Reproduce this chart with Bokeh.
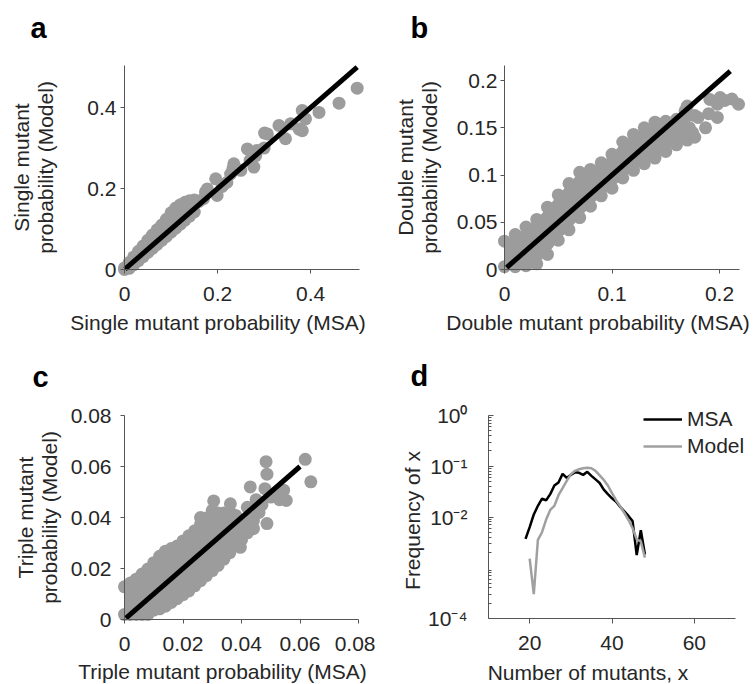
import math
from bokeh.plotting import figure
from bokeh.models import (Range1d, FixedTicker, CustomJSTickFormatter, Label,
                          Legend, LegendItem, LinearAxis, LogAxis, LogScale)
from bokeh.layouts import row, column
from bokeh.embed import file_html
from bokeh.resources import INLINE

FONT = "Liberation Sans"
DOT = "#9c9c9c"
AXIS_COL = "#555555"
TXT = "#262626"
FS = "21px"

# ---------------- data ----------------
# panel a : single mutant probabilities (dense band + scattered points)
a_band_x = [0.00, 0.01, 0.02, 0.03, 0.04, 0.05, 0.06, 0.07, 0.08, 0.09, 0.10, 0.11, 0.12, 0.13, 0.14, 0.15]
a_band_hi = [0.004, 0.017, 0.031, 0.045, 0.058, 0.072, 0.085, 0.098, 0.110, 0.124, 0.140, 0.152, 0.160, 0.166, 0.170, 0.172]
a_band_lo = [0.000, 0.003, 0.012, 0.022, 0.032, 0.042, 0.052, 0.062, 0.072, 0.082, 0.092, 0.102, 0.112, 0.122, 0.132, 0.142]
a_pts_x = [0.16, 0.17, 0.174, 0.178, 0.196, 0.199, 0.21, 0.22, 0.228, 0.235, 0.233, 0.25, 0.264, 0.278, 0.282,
           0.285, 0.27, 0.301, 0.307, 0.30, 0.332, 0.346, 0.357, 0.375, 0.382, 0.382, 0.389, 0.418, 0.461, 0.500]
a_pts_y = [0.168, 0.175, 0.192, 0.199, 0.224, 0.183, 0.205, 0.215, 0.236, 0.261, 0.249, 0.245, 0.298, 0.253, 0.281,
           0.294, 0.27, 0.337, 0.335, 0.30, 0.356, 0.323, 0.360, 0.347, 0.343, 0.393, 0.372, 0.388, 0.411, 0.448]
a_diag = [0.001, 0.5]

# panel b : double mutant probabilities
b_band_x = [0.00, 0.01, 0.02, 0.03, 0.04, 0.05, 0.06, 0.07, 0.08, 0.09, 0.10, 0.11, 0.12, 0.13, 0.14, 0.15, 0.16, 0.17]
b_band_hi = [0.030, 0.037, 0.045, 0.053, 0.066, 0.079, 0.091, 0.103, 0.106, 0.113, 0.122, 0.135, 0.143, 0.150, 0.156, 0.157, 0.159, 0.163]
b_band_lo = [0.003, 0.003, 0.004, 0.006, 0.016, 0.031, 0.042, 0.055, 0.067, 0.078, 0.086, 0.097, 0.105, 0.112, 0.118, 0.125, 0.132, 0.137]
b_pts_x = [0.168, 0.170, 0.177, 0.177, 0.180, 0.187, 0.190, 0.191, 0.198, 0.198, 0.2006, 0.205, 0.2115, 0.2177, 0.172, 0.175, 0.165, 0.160]
b_pts_y = [0.168, 0.173, 0.163, 0.140, 0.161, 0.150, 0.165, 0.180, 0.175, 0.161, 0.182, 0.179, 0.1805, 0.175, 0.150, 0.145, 0.140, 0.150]
b_diag = [0.002, 0.21]

# panel c : triple mutant probabilities
c_band_x = [0.000, 0.002, 0.004, 0.006, 0.008, 0.010, 0.012, 0.014, 0.016, 0.018, 0.020,
            0.022, 0.024, 0.026, 0.028, 0.030, 0.032, 0.034, 0.036, 0.038, 0.040]
c_band_hi = [0.0128, 0.0143, 0.0158, 0.0178, 0.0198, 0.0223, 0.0248, 0.0268, 0.0278, 0.0288, 0.0308,
             0.0328, 0.0348, 0.0373, 0.0398, 0.0428, 0.0418, 0.0418, 0.0423, 0.0408, 0.0388]
c_band_lo = [0.002, 0.002, 0.002, 0.002, 0.002, 0.0037, 0.0042, 0.0052, 0.0067, 0.0082, 0.0097,
             0.0112, 0.0132, 0.0152, 0.0172, 0.0192, 0.0212, 0.0237, 0.0262, 0.0292, 0.0312]
c_pts_x = [0.0618, 0.0637, 0.0484, 0.0487, 0.043, 0.048, 0.0544, 0.0553, 0.0487, 0.0441, 0.0441, 0.0305, 0.0362,
           0.0373, 0.0396, 0.026, 0.042, 0.045, 0.047, 0.050, 0.052, 0.046, 0.043, 0.041, 0.039, 0.042, 0.053]
c_pts_y = [0.0628, 0.054, 0.0619, 0.057, 0.052, 0.0513, 0.0507, 0.0467, 0.0376, 0.0389, 0.0356, 0.0465, 0.0454,
           0.0402, 0.0283, 0.040, 0.044, 0.047, 0.045, 0.048, 0.050, 0.042, 0.040, 0.036, 0.032, 0.034, 0.047]
c_diag = [0.0005, 0.06]

# panel d : distribution of number of mutants
d_x_msa = [19, 20, 21, 22, 23, 24, 25, 26, 27, 28, 29, 30, 31, 32, 33, 34, 35, 36, 37, 38, 39, 40, 41, 42, 43, 44, 45, 46, 47, 48]
d_msa = [0.00372, 0.00631, 0.0112, 0.0166, 0.0229, 0.0214, 0.0282, 0.0417, 0.0479, 0.0708, 0.0589, 0.0676, 0.0759, 0.0741,
         0.0676, 0.0776, 0.0646, 0.0550, 0.0468, 0.0347, 0.0282, 0.0234, 0.0200, 0.0158, 0.0129, 0.0105, 0.0083, 0.00178,
         0.00550, 0.00182]
d_x_model = [20, 21, 22, 23, 24, 25, 26, 27, 28, 29, 30, 31, 32, 33, 34, 35, 36, 37, 38, 39, 40, 41, 42, 43, 44, 45, 46, 47, 48]
d_model = [0.00151, 0.000302, 0.00355, 0.00501, 0.00891, 0.0138, 0.0166, 0.0269, 0.0372, 0.0513, 0.0692, 0.0813, 0.0871,
           0.0912, 0.0933, 0.0912, 0.0813, 0.0661, 0.0537, 0.0417, 0.0295, 0.0214, 0.0162, 0.0120, 0.00871, 0.00603,
           0.00363, 0.00331, 0.00158]

# ticks
a_ticks = [0, 0.2, 0.4]
a_labels = ["0", "0.2", "0.4"]
b_xticks = [0, 0.1, 0.2]
b_xlabels = ["0", "0.1", "0.2"]
b_yticks = [0, 0.05, 0.1, 0.15, 0.2]
b_ylabels = ["0", "0.05", "0.1", "0.15", "0.2"]
c_ticks = [0, 0.02, 0.04, 0.06, 0.08]
c_labels = ["0", "0.02", "0.04", "0.06", "0.08"]
d_xticks = [20, 40, 60]
d_xlabels = ["20", "40", "60"]
d_yticks = [1e-4, 1e-2, 1e-1, 1.0]
d_ylabels = ["10\u207b\u2074", "10\u207b\u00b2", "10\u207b\u00b9", "10\u2070"]

FMT_CODE = """
for (let i = 0; i < t.length; i++) {
  if (Math.abs(t[i] - tick) <= 1e-7 * Math.abs(t[i]) + 1e-12) { return l[i]; }
}
return "";
"""

ROW1_H = 342
TOTAL_H = 684


class Panel:
    """A figure whose frame is its whole canvas; axes sit at fixed locations."""

    def __init__(self, canvas, box, xr, yr, log=False):
        self.ox, self.oy, self.cw, self.ch = canvas
        self.L, self.T, self.R, self.B = box
        self.xr, self.yr, self.log = xr, yr, log
        kx = (xr[1] - xr[0]) / (self.R - self.L)
        xs = xr[0] - (self.L - self.ox) * kx
        xe = xr[1] + (self.ox + self.cw - self.R) * kx
        if log:
            l0, l1 = math.log10(yr[0]), math.log10(yr[1])
            ky = (l1 - l0) / (self.B - self.T)
            ys = 10 ** (l0 - (self.oy + self.ch - self.B) * ky)
            ye = 10 ** (l1 + (self.T - self.oy) * ky)
        else:
            ky = (yr[1] - yr[0]) / (self.B - self.T)
            ys = yr[0] - (self.oy + self.ch - self.B) * ky
            ye = yr[1] + (self.T - self.oy) * ky
        p = figure(width=self.cw, height=self.ch, min_border=0,
                   min_border_left=0, min_border_right=0, min_border_top=0, min_border_bottom=0,
                   x_range=Range1d(xs, xe), y_range=Range1d(ys, ye),
                   x_axis_location=None, y_axis_location=None,
                   y_axis_type="log" if log else "linear",
                   output_backend="svg", toolbar_location=None)
        if log:
            p.y_scale = LogScale()
        p.grid.visible = False
        p.outline_line_color = None
        p.background_fill_color = None
        p.border_fill_color = None
        self.p = p

    def data(self, px, py):
        x0, x1 = self.xr
        x = x0 + (px - self.L) / (self.R - self.L) * (x1 - x0)
        frac = (self.B - py) / (self.B - self.T)
        y0, y1 = self.yr
        if self.log:
            y = 10 ** (math.log10(y0) + frac * (math.log10(y1) - math.log10(y0)))
        else:
            y = y0 + frac * (y1 - y0)
        return x, y

    def text(self, px, py, txt, size=FS, angle=0.0, align="center", baseline="alphabetic",
             bold=False, color=TXT, lh=1.05):
        x, y = self.data(px, py)
        self.p.add_layout(Label(x=x, y=y, text=txt, angle=angle, text_align=align,
                                text_baseline=baseline, text_font=FONT, text_font_size=size,
                                text_font_style="bold" if bold else "normal", text_color=color,
                                text_line_height=lh))

    def axes(self, xt, xl, yt, yl, xstand, ystand, ytick_in=False, yminor=None, xtick_out=4):
        x0, x1 = self.xr
        y0, y1 = self.yr
        xa = LinearAxis(fixed_location=y0, bounds=(x0, x1))
        ya = (LogAxis if self.log else LinearAxis)(fixed_location=x0, bounds=(y0, y1))
        for ax, t, l, s in ((xa, xt, xl, xstand), (ya, yt, yl, ystand)):
            ax.ticker = FixedTicker(ticks=t, minor_ticks=[])
            ax.formatter = CustomJSTickFormatter(args=dict(t=t, l=l), code=FMT_CODE)
            ax.axis_line_color = AXIS_COL
            ax.major_tick_line_color = AXIS_COL
            ax.minor_tick_line_color = AXIS_COL
            ax.major_label_text_font = FONT
            ax.major_label_text_font_size = FS
            ax.major_label_text_color = TXT
            ax.major_tick_out = 4
            ax.major_tick_in = 0
            ax.minor_tick_out = 0
            ax.minor_tick_in = 0
            ax.major_label_standoff = s
        xa.major_tick_out = xtick_out
        if ytick_in:
            ya.major_tick_in = 5
            ya.major_tick_out = 0
            ya.minor_tick_in = 3
            ya.minor_tick_out = 0
            ya.ticker = FixedTicker(ticks=yt, minor_ticks=yminor or [])
        self.p.add_layout(xa, "below")
        self.p.add_layout(ya, "left")


def scatter_panel(pn, bx, blo, bhi, px, py, diag):
    p = pn.p
    p.varea(x=bx, y1=blo, y2=bhi, fill_color=DOT)
    p.scatter(bx, bhi, size=13, marker="circle", fill_color=DOT, line_color=None)
    p.scatter(bx, blo, size=13, marker="circle", fill_color=DOT, line_color=None)
    p.scatter(px, py, size=13, marker="circle", fill_color=DOT, line_color=None)
    p.line(diag, diag, line_color="black", line_width=5)


ROW2_H = TOTAL_H - ROW1_H

# ---------------- panel a ----------------
pa = Panel((0, 0, 375, ROW1_H), (124, 65, 359, 269), (0, 0.505), (0, 0.504))
scatter_panel(pa, a_band_x, a_band_lo, a_band_hi, a_pts_x, a_pts_y, a_diag)
pa.axes(a_ticks, a_labels, a_ticks, a_labels, 13, 4)
pa.text(30, 27, "a", size="29px", align="left", bold=True, color="black")
pa.text(33, 167, "Single mutant\nprobability (Model)", angle=math.pi / 2, baseline="middle")
pa.text(217.5, 322, "Single mutant probability (MSA)")

# ---------------- panel b ----------------
pb = Panel((375, 0, 380, ROW1_H), (504, 65, 739, 269), (0, 0.2186), (0, 0.216))
scatter_panel(pb, b_band_x, b_band_lo, b_band_hi, b_pts_x, b_pts_y, b_diag)
pb.axes(b_xticks, b_xlabels, b_yticks, b_ylabels, 13, 3)
pb.text(410, 27, "b", size="29px", align="left", bold=True, color="black")
pb.text(417, 167, "Double mutant\nprobability (Model)", angle=math.pi / 2, baseline="middle")
pb.text(597.5, 322, "Double mutant probability (MSA)")

# ---------------- panel c ----------------
pc = Panel((0, ROW1_H, 375, ROW2_H), (124, 415, 358, 619), (0, 0.08), (0, 0.08))
scatter_panel(pc, c_band_x, c_band_lo, c_band_hi, c_pts_x, c_pts_y, c_diag)
pc.axes(c_ticks, c_labels, c_ticks, c_labels, 13, 9)
pc.text(32, 376, "c", size="29px", align="left", bold=True, color="black")
pc.text(37, 517, "Triple mutant\nprobability (Model)", angle=math.pi / 2, baseline="middle")
pc.text(222, 671, "Triple mutant probability (MSA)")

# ---------------- panel d ----------------
pd = Panel((375, ROW1_H, 380, ROW2_H), (488, 415, 735, 618), (10, 70), (1e-4, 1.0), log=True)
minor = [m * 10.0 ** e for e in (-4, -3, -2, -1) for m in range(2, 10)]
pd.axes(d_xticks, d_xlabels, d_yticks, d_ylabels, 12, 21, ytick_in=True, yminor=minor, xtick_out=5)
r_msa = pd.p.line(d_x_msa, d_msa, line_color="black", line_width=2.5)
r_mod = pd.p.line(d_x_model, d_model, line_color="#a0a0a0", line_width=2.5)
pd.text(410, 375, "d", size="29px", align="left", bold=True, color="black")
pd.text(412, 520, "Frequency of x", angle=math.pi / 2, baseline="middle")
pd.text(587.5, 672, "Number of mutants, x")
legend = Legend(items=[LegendItem(label="MSA", renderers=[r_msa]),
                       LegendItem(label="Model", renderers=[r_mod])],
                location=(643 - 375, TOTAL_H - 458), glyph_width=39, glyph_height=20, label_height=20,
                spacing=3, padding=0, margin=0, label_standoff=5,
                border_line_color=None, background_fill_alpha=0,
                label_text_font=FONT, label_text_font_size=FS, label_text_color=TXT)
pd.p.add_layout(legend)

layout = column(row(pa.p, pb.p), row(pc.p, pd.p))
open("out.html", "w").write(file_html(layout, INLINE))
